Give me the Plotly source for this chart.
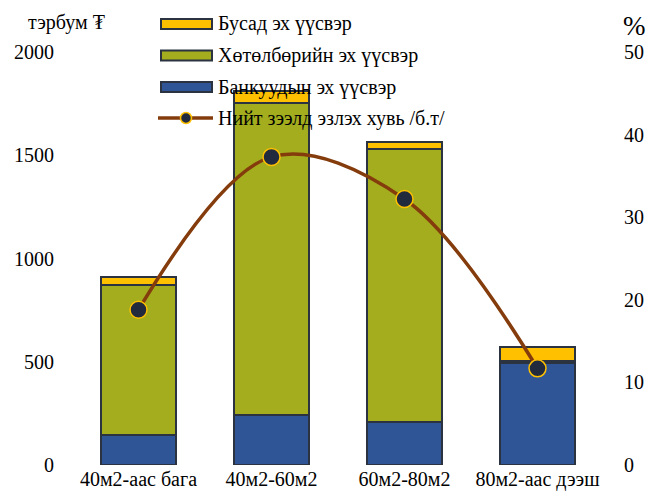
import plotly.graph_objects as go

categories = ["40м2-аас бага", "40м2-60м2", "60м2-80м2", "80м2-аас дээш"]
bank = [145, 242, 208, 494]
program = [726, 1510, 1322, 8]
other = [40, 58, 33, 69]
share = [18.8, 37.3, 32.2, 11.7]

names = ["Бусад эх үүсвэр", "Хөтөлбөрийн эх үүсвэр", "Банкуудын эх үүсвэр",
         "Нийт зээлд эзлэх хувь /б.т/"]

FONT = "Liberation Serif, Times New Roman, serif"
FS = 20
EDGE = "#2B3240"
C_OTHER, C_PROG, C_BANK = "#FFC000", "#A3AD1E", "#2F5597"
C_LINE, C_MARK = "#843C0C", "#222B3D"

W, H = 656, 496
L, R, T, B = 64, 60, 44, 39
PW, PH = W - L - R, H - T - B


def px(x):
    return (x - L) / PW


def py(y):
    return 1 - (y - T) / PH


edge = dict(color=EDGE, width=2)

fig = go.Figure()
fig.add_trace(go.Bar(x=categories, y=bank, name=names[2],
                     marker=dict(color=C_BANK, line=edge), width=0.56))
fig.add_trace(go.Bar(x=categories, y=program, name=names[1],
                     marker=dict(color=C_PROG, line=edge), width=0.56))
fig.add_trace(go.Bar(x=categories, y=other, name=names[0],
                     marker=dict(color=C_OTHER, line=edge), width=0.56))
fig.add_trace(go.Scatter(x=categories, y=share, name=names[3],
                         yaxis="y2", mode="lines+markers",
                         line=dict(color=C_LINE, width=3.5, shape="spline", smoothing=1),
                         marker=dict(size=17, color=C_MARK, line=dict(color=C_OTHER, width=1.5))))

# custom legend (wide swatches like the original)
shapes = []
annotations = []
rows = [16, 47.5, 79, 110]
for c, yy in zip([C_OTHER, C_PROG, C_BANK], rows[:3]):
    shapes.append(dict(type="rect", xref="paper", yref="paper",
                       x0=px(153), x1=px(204), y0=py(yy - 5), y1=py(yy + 5),
                       fillcolor=c, line=dict(color=EDGE, width=2), layer="above"))
shapes.append(dict(type="line", xref="paper", yref="paper",
                   x0=px(150), x1=px(205), y0=py(rows[3]), y1=py(rows[3]),
                   line=dict(color=C_LINE, width=3.5), layer="above"))
shapes.append(dict(type="circle", xref="paper", yref="paper",
                   x0=px(172.5), x1=px(183.5), y0=py(rows[3] - 5.5), y1=py(rows[3] + 5.5),
                   fillcolor=C_MARK, line=dict(color=C_OTHER, width=1.5), layer="above"))
for name, yy in zip(names, rows):
    annotations.append(dict(text=name, xref="paper", yref="paper", x=px(208), y=py(yy),
                            xanchor="left", yanchor="middle", showarrow=False,
                            font=dict(size=FS)))

annotations.append(dict(text="тэрбум ₮", xref="paper", yref="paper", x=px(18), y=py(15),
                        xanchor="left", yanchor="middle", showarrow=False, font=dict(size=FS)))
annotations.append(dict(text="%", xref="paper", yref="paper", x=px(613), y=py(1),
                        xanchor="left", yanchor="top", showarrow=False, font=dict(size=27)))

fig.update_layout(
    width=W, height=H,
    margin=dict(l=L, r=R, t=T, b=B, autoexpand=False),
    barmode="stack",
    plot_bgcolor="white", paper_bgcolor="white",
    font=dict(family=FONT, size=FS, color="black"),
    showlegend=False,
    xaxis=dict(showgrid=False, showline=False, ticks="", tickfont=dict(size=FS),
               automargin=False),
    yaxis=dict(range=[0, 2000], dtick=500, showgrid=False, showline=False,
               zeroline=False, ticks="", tickfont=dict(size=FS), ticklabelstandoff=17,
               automargin=False),
    yaxis2=dict(range=[0, 50], dtick=10, overlaying="y", side="right", showgrid=False,
                showline=False, zeroline=False, ticks="", tickfont=dict(size=FS),
                ticklabelstandoff=19, automargin=False),
    shapes=shapes,
    annotations=annotations,
)

fig.write_html("out.html")
